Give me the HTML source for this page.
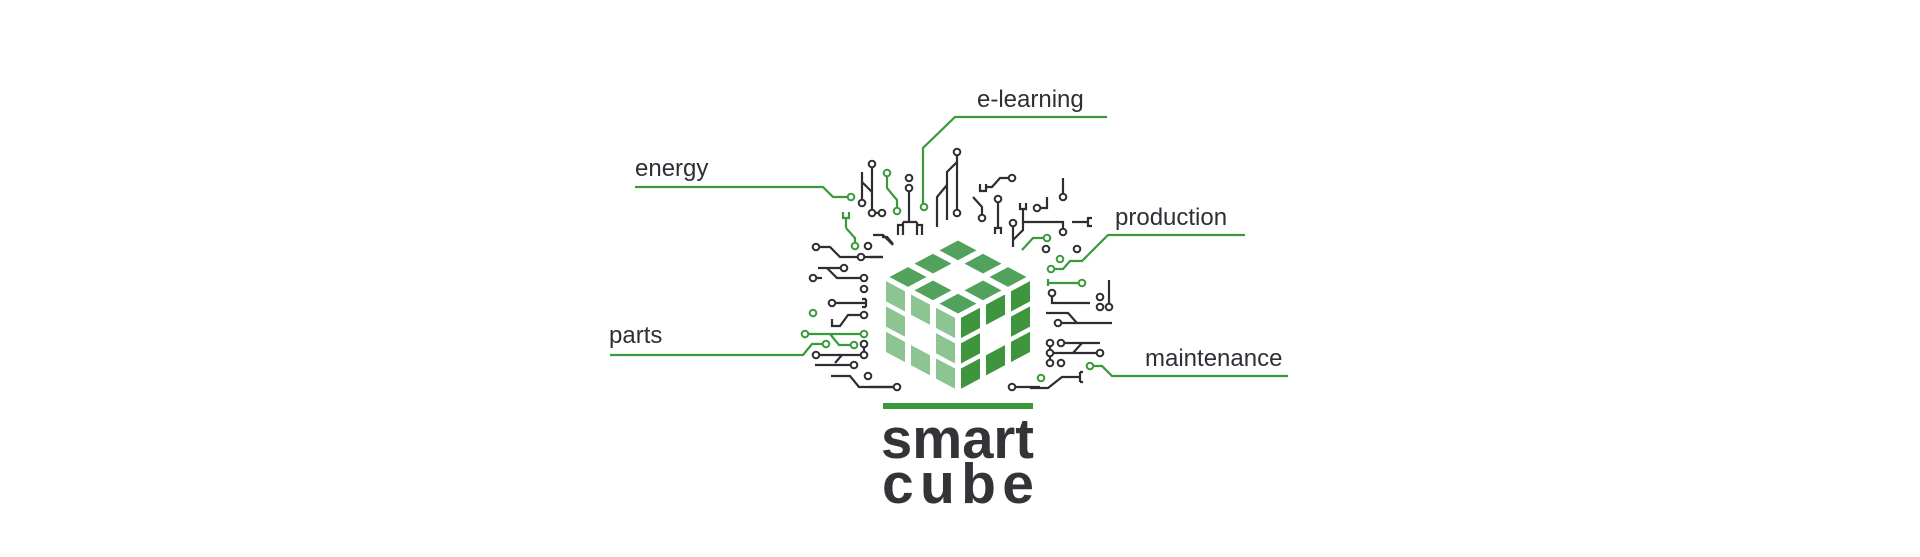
<!DOCTYPE html>
<html><head><meta charset="utf-8"><style>
html,body{margin:0;padding:0;background:#fff;}
svg{display:block;}
.lb{font-family:"Liberation Sans",sans-serif;font-size:24px;fill:#2f3035;}
.big{font-family:"Liberation Sans",sans-serif;font-weight:bold;font-size:57px;fill:#333438;}
</style></head><body>
<svg width="1920" height="557" viewBox="0 0 1920 557" xmlns="http://www.w3.org/2000/svg">
<!-- labels -->
<text class="lb" x="635" y="176">energy</text>
<text class="lb" x="977" y="107">e-learning</text>
<text class="lb" x="1115" y="225">production</text>
<text class="lb" x="1145" y="366">maintenance</text>
<text class="lb" x="609" y="343">parts</text>

<g fill="none" stroke="#3a9a3a" stroke-width="2.2">
<polyline points="635,187 823,187 833,197 848,197"/>
<polyline points="1107,117 955,117 923,148 923,204"/>
<polyline points="1245,235 1108,235 1082,261 1070,261 1063,269 1054,269"/>
<polyline points="1288,376 1112,376 1102,366 1093,366"/>
<polyline points="610,355 803,355 812,344 823,344"/>
<!-- green traces -->
<polyline points="887,176 887,188 897,200 897,208"/>
<polyline points="846,228 855,238 855,243"/>
<path d="M843,212 V218 H849 V212 M846,218 V228"/>
<polyline points="1022,250 1033,238 1044,238"/>
<path d="M1048,279 V286 M1048,283 H1079"/>
<polyline points="808,334 861,334"/>
<polyline points="830,334 839,345 851,345"/>
</g>
<g fill="#fff" stroke="#3a9a3a" stroke-width="2">
<circle cx="851" cy="197" r="3.3"/><circle cx="924" cy="207" r="3.3"/><circle cx="1051" cy="269" r="3.3"/>
<circle cx="1090" cy="366" r="3.3"/><circle cx="826" cy="344" r="3.3"/>
<circle cx="887" cy="173" r="3.3"/><circle cx="897" cy="211" r="3.3"/><circle cx="855" cy="246" r="3.3"/>
<circle cx="1047" cy="238" r="3.3"/><circle cx="1060" cy="259" r="3.3"/><circle cx="1082" cy="283" r="3.3"/>
<circle cx="1041" cy="378" r="3.3"/><circle cx="813" cy="313" r="3.3"/><circle cx="805" cy="334" r="3.3"/>
<circle cx="864" cy="334" r="3.3"/><circle cx="854" cy="345" r="3.3"/>
</g>

<!-- dark traces -->
<g fill="none" stroke="#2d2e33" stroke-width="2.2">
<path d="M862,172 V200 M872,167 V210 M862,182 L872,192 M875,213 H879"/>
<path d="M909,191 V222 M898,235 V225 H903 V235 M903,222 H917 M917,235 V225 H922 V235 M917,222 V225 M903,222 V225"/>
<path d="M957,155 V210 M957,162 L947,172 V220 M947,185 L937,197 V227"/>
<path d="M980,184 V191 H986 V184 M986,187 H992 L1000,178 H1009"/>
<path d="M973,197 L982,207 V215"/>
<path d="M998,202 V227 M995,234 V228 H1001 V234"/>
<path d="M1013,226 V247 M1013,240 L1023,230 V208 M1020,203 V209 H1026 V203 M1023,222 H1063 V229"/>
<path d="M1040,208 H1047 V197"/>
<path d="M1063,178 V194"/>
<path d="M1072,222 H1088 M1092,218 H1088 V226 H1092"/>
<path d="M1046,313 H1068 L1077,323 H1112 M1061,323 H1077"/>
<path d="M1052,296 V303 H1090"/>
<path d="M1109,280 V304"/>
<path d="M1061,343 H1100 M1073,353 L1082,343 M1050,346 V360 M1053,353 H1097"/>
<path d="M1030,388 H1048 L1062,377 H1080 M1080,372 V382 M1080,372 H1083 M1080,382 H1083"/>
<path d="M1015,387 H1040"/>
<!-- left -->
<path d="M820,247 H830 L840,257 H883 M873,235 H883 L893,245"/>
<path d="M818,268 H840 M827,268 L837,278 H861 M816,278 H822"/>
<path d="M835,303 H867 M866,299 V307 M862,299 H866 M862,307 H866"/>
<path d="M832,319 V326 H840 L848,315 H861"/>
<path d="M864,347 V353"/>
<path d="M819,355 H861 M835,363 L842,355"/>
<path d="M815,365 H851"/>
<path d="M831,376 H850 L859,387 H894"/>
<path d="M870,257 H883 M882,237 H887 L893,244"/>
<path d="M870,387 H895"/>
</g>
<g fill="#fff" stroke="#2d2e33" stroke-width="2">
<circle cx="862" cy="203" r="3.3"/><circle cx="872" cy="164" r="3.3"/><circle cx="872" cy="213" r="3.3"/><circle cx="882" cy="213" r="3.3"/>
<circle cx="909" cy="178" r="3.3"/><circle cx="909" cy="188" r="3.3"/>
<circle cx="957" cy="152" r="3.3"/><circle cx="957" cy="213" r="3.3"/>
<circle cx="1012" cy="178" r="3.3"/><circle cx="982" cy="218" r="3.3"/><circle cx="998" cy="199" r="3.3"/>
<circle cx="1013" cy="223" r="3.3"/><circle cx="1063" cy="232" r="3.3"/><circle cx="1037" cy="208" r="3.3"/>
<circle cx="1063" cy="197" r="3.3"/>
<circle cx="1046" cy="249" r="3.3"/><circle cx="1077" cy="249" r="3.3"/>
<circle cx="1052" cy="293" r="3.3"/><circle cx="1100" cy="297" r="3.3"/><circle cx="1100" cy="307" r="3.3"/><circle cx="1109" cy="307" r="3.3"/>
<circle cx="1058" cy="323" r="3.3"/>
<circle cx="1050" cy="343" r="3.3"/><circle cx="1061" cy="343" r="3.3"/><circle cx="1050" cy="353" r="3.3"/><circle cx="1100" cy="353" r="3.3"/>
<circle cx="1050" cy="363" r="3.3"/><circle cx="1061" cy="363" r="3.3"/>
<circle cx="1012" cy="387" r="3.3"/>
<circle cx="868" cy="246" r="3.3"/><circle cx="816" cy="247" r="3.3"/><circle cx="861" cy="257" r="3.3"/>
<circle cx="844" cy="268" r="3.3"/><circle cx="813" cy="278" r="3.3"/><circle cx="864" cy="278" r="3.3"/><circle cx="864" cy="289" r="3.3"/>
<circle cx="832" cy="303" r="3.3"/><circle cx="864" cy="315" r="3.3"/>
<circle cx="864" cy="344" r="3.3"/><circle cx="816" cy="355" r="3.3"/><circle cx="864" cy="355" r="3.3"/><circle cx="854" cy="365" r="3.3"/>
<circle cx="868" cy="376" r="3.3"/><circle cx="897" cy="387" r="3.3"/>
</g>

<!-- cube -->
<g fill="#52a25e" transform="matrix(-25,-13.333,25,-13.333,958,317)">
<rect x="0.13" y="0.13" width="0.74" height="0.74"/><rect x="1.13" y="0.13" width="0.74" height="0.74"/><rect x="2.13" y="0.13" width="0.74" height="0.74"/>
<rect x="0.13" y="1.13" width="0.74" height="0.74"/><rect x="2.13" y="1.13" width="0.74" height="0.74"/>
<rect x="0.13" y="2.13" width="0.74" height="0.74"/><rect x="1.13" y="2.13" width="0.74" height="0.74"/><rect x="2.13" y="2.13" width="0.74" height="0.74"/>
</g>
<g fill="#8cc492" transform="matrix(-25,-13.333,0,25.3,958,317)">
<rect x="0.12" y="0.1" width="0.76" height="0.8"/><rect x="1.12" y="0.1" width="0.76" height="0.8"/><rect x="2.12" y="0.1" width="0.76" height="0.8"/>
<rect x="0.12" y="1.1" width="0.76" height="0.8"/><rect x="2.12" y="1.1" width="0.76" height="0.8"/>
<rect x="0.12" y="2.1" width="0.76" height="0.8"/><rect x="1.12" y="2.1" width="0.76" height="0.8"/><rect x="2.12" y="2.1" width="0.76" height="0.8"/>
</g>
<g fill="#3f953e" transform="matrix(25,-13.333,0,25.3,958,317)">
<rect x="0.12" y="0.1" width="0.76" height="0.8"/><rect x="1.12" y="0.1" width="0.76" height="0.8"/><rect x="2.12" y="0.1" width="0.76" height="0.8"/>
<rect x="0.12" y="1.1" width="0.76" height="0.8"/><rect x="2.12" y="1.1" width="0.76" height="0.8"/>
<rect x="0.12" y="2.1" width="0.76" height="0.8"/><rect x="1.12" y="2.1" width="0.76" height="0.8"/><rect x="2.12" y="2.1" width="0.76" height="0.8"/>
</g>

<rect x="883" y="403" width="150" height="6" fill="#3a9a3a"/>
<text class="big" x="881" y="458" textLength="153" lengthAdjust="spacingAndGlyphs">smart</text>
<text class="big" x="882" y="503" textLength="152" lengthAdjust="spacing">cube</text>
</svg>
</body></html>
